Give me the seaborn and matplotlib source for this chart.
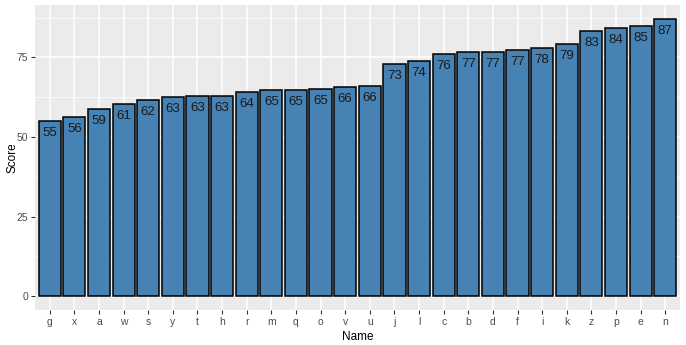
import matplotlib
matplotlib.use("Agg")
import matplotlib.pyplot as plt
import seaborn as sns
import pandas as pd
from matplotlib.ticker import MultipleLocator

names = list("gxawsythrmqovujlcbdfikzpen")
scores = [55.0, 56.4, 58.9, 60.5, 61.6, 62.7, 63.0, 63.0, 64.2, 64.9, 64.9, 65.2, 65.6,
          66.1, 73.0, 73.9, 76.2, 76.8, 76.8, 77.3, 77.9, 79.3, 83.4, 84.2, 84.9, 87.1]
labels = ["55", "56", "59", "61", "62", "63", "63", "63", "64", "65", "65", "65", "66",
          "66", "73", "74", "76", "77", "77", "77", "78", "79", "83", "84", "85", "87"]
yticks = [0, 25, 50, 75]

df = pd.DataFrame({"Name": names, "Score": scores})

sns.set_theme(style="darkgrid")
plt.rcParams["font.family"] = ["Liberation Sans", "DejaVu Sans"]

fig = plt.figure(figsize=(6.86, 3.45), dpi=100)
ax = fig.add_axes([35/686, 35/345, 645/686, 305/345])
ax.set_facecolor("#EBEBEB")

sns.barplot(data=df, x="Name", y="Score", order=names, color="#4682B4",
            edgecolor="black", linewidth=1.1, width=0.9, saturation=1, ax=ax)

ax.bar_label(ax.containers[0], labels=labels, padding=-13, fontsize=9.5, color="#1a1a1a")

ymax = max(scores)
ax.set_ylim(-0.05 * ymax, 1.05 * ymax)
ax.set_xlim(-0.6, len(names) - 1 + 0.6)
ax.set_yticks(yticks)
ax.yaxis.set_minor_locator(MultipleLocator(12.5))
ax.grid(True, which="major", color="white", linewidth=1.1)
ax.grid(True, which="minor", axis="y", color="white", linewidth=0.55)
ax.set_axisbelow(True)
for s in ax.spines.values():
    s.set_visible(False)

ax.tick_params(axis="both", which="major", length=3, width=0.8, color="#333333",
               labelsize=7.5, labelcolor="#4D4D4D", pad=2, bottom=True, left=True)
ax.tick_params(axis="both", which="minor", length=0)
ax.set_xlabel("Name", fontsize=8.5, color="black", labelpad=3)
ax.set_ylabel("Score", fontsize=8.5, color="black")
ax.yaxis.set_label_coords(-0.026, 0.5)

fig.savefig("out.png", dpi=100, facecolor="white")
